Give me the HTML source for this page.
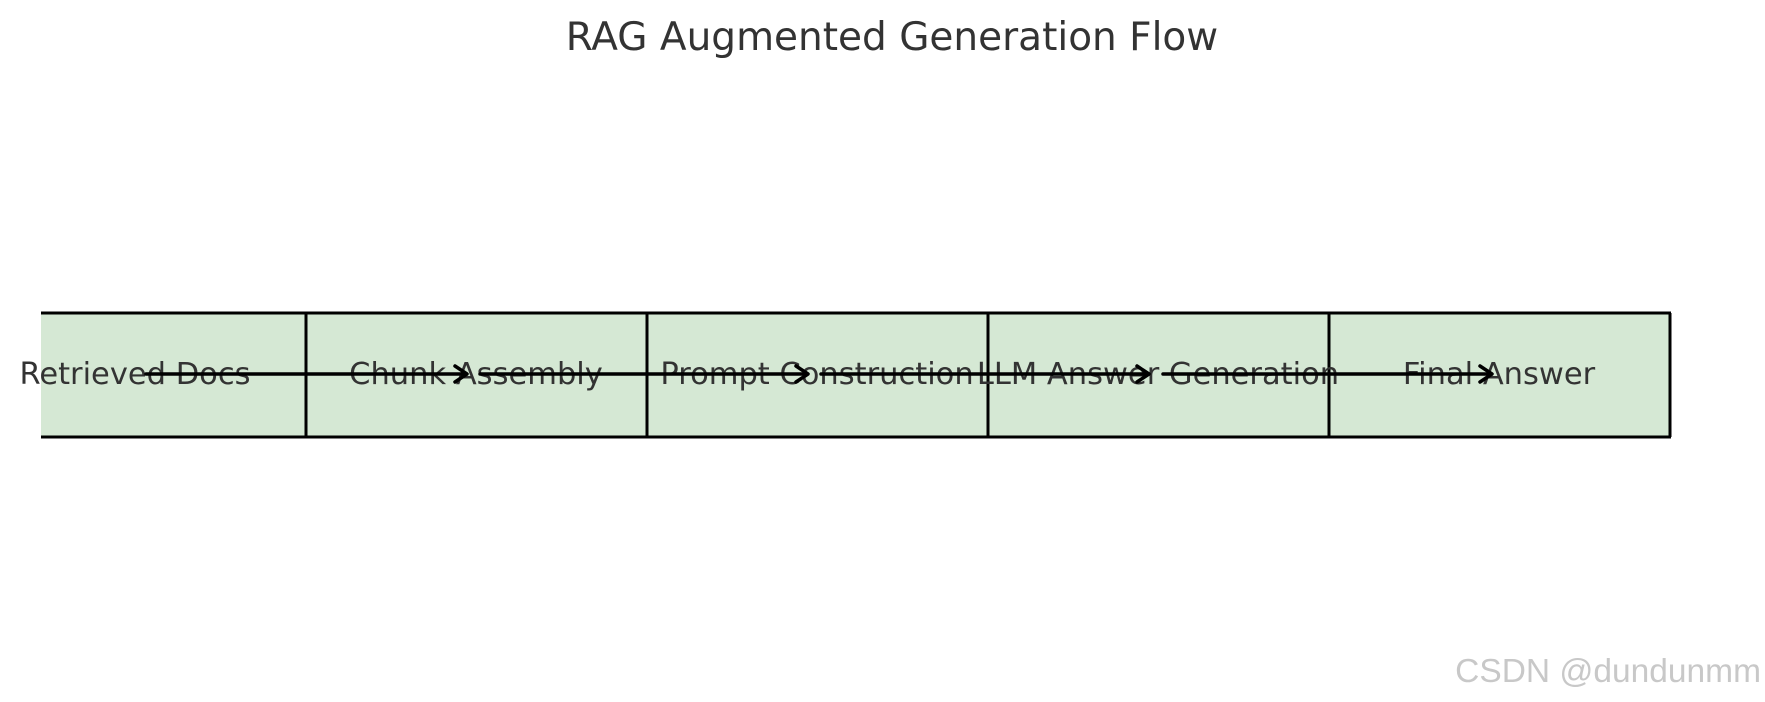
<!DOCTYPE html>
<html><head><meta charset="utf-8"><style>
html,body{margin:0;padding:0;background:#fff;}
body{width:1765px;height:702px;overflow:hidden;position:relative;}
svg{position:absolute;left:0;top:0;}
</style></head><body>
<svg width="1765" height="702" viewBox="0 0 1765 702" xmlns="http://www.w3.org/2000/svg">
<text x="892" y="50" text-anchor="middle" font-family="DejaVu Sans, sans-serif" font-size="39" fill="#333">RAG Augmented Generation Flow</text>
<rect x="41" y="313" width="1629" height="124" fill="#d5e8d4"/>
<g stroke="#000" stroke-width="3" fill="none">
<line x1="41" y1="313" x2="1671" y2="313"/>
<line x1="41" y1="437" x2="1671" y2="437"/>
<line x1="1670" y1="313" x2="1670" y2="437"/>
<line x1="306" y1="313" x2="306" y2="437"/>
<line x1="647" y1="313" x2="647" y2="437"/>
<line x1="988" y1="313" x2="988" y2="437"/>
<line x1="1329" y1="313" x2="1329" y2="437"/>
</g>
<g font-family="DejaVu Sans, sans-serif" font-size="30.5" fill="#333" text-anchor="middle">
<text x="135" y="384">Retrieved Docs</text>
<text x="476" y="384">Chunk Assembly</text>
<text x="817" y="384">Prompt Construction</text>
<text x="1158" y="384">LLM Answer Generation</text>
<text x="1499" y="384">Final Answer</text>
</g>
<g stroke="#000" stroke-width="3.5" fill="none" stroke-linecap="round" stroke-linejoin="round">
<line x1="146" y1="374" x2="465" y2="374"/><polyline points="455,366 467,374 455,382"/>
<line x1="480" y1="374" x2="806" y2="374"/><polyline points="796,366 808,374 796,382"/>
<line x1="821" y1="374" x2="1147" y2="374"/><polyline points="1137,366 1149,374 1137,382"/>
<line x1="1163" y1="374" x2="1490" y2="374"/><polyline points="1480,366 1492,374 1480,382"/>
</g>
<text x="1763" y="684" text-anchor="end" font-family="Liberation Sans, sans-serif" font-size="33.5" fill="#fff" opacity="0.9">CSDN @dundunmm</text>
<text x="1761" y="682" text-anchor="end" font-family="Liberation Sans, sans-serif" font-size="33.5" fill="#c8c8c8">CSDN @dundunmm</text>
</svg>
</body></html>
